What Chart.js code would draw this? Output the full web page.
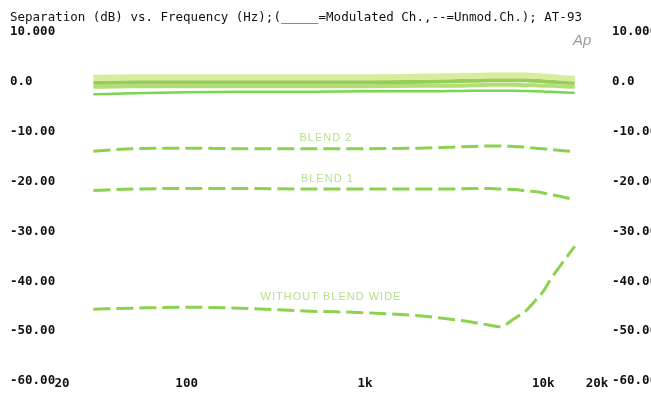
<!DOCTYPE html>
<html><head><meta charset="utf-8">
<script src="https://cdn.jsdelivr.net/npm/chart.js@4.4.0/dist/chart.umd.min.js"></script>
<style>html,body{margin:0;padding:0;background:#fff;}canvas{display:block;}</style>
</head><body>
<canvas id="c" width="651" height="393"></canvas>
<script>
// ---- data ----
const freqHz   = [30, 50, 100, 200, 500, 1000, 2000, 3000, 4000, 5000, 5700, 7000, 8000, 9000, 10000, 11000, 12500, 15000];
// Modulated channel (solid) curves, bunched around 0 dB
const modTop   = [0.8, 0.9, 0.9, 0.9, 0.9, 0.9, 1.0, 1.1, 1.2, 1.3, 1.3, 1.3, 1.3, 1.2, 1.1, 1.0, 0.8, 0.6];
const modMid   = [-0.2, -0.1, -0.1, -0.1, -0.1, -0.1, 0.0, 0.1, 0.2, 0.3, 0.3, 0.3, 0.3, 0.2, 0.1, 0.0, -0.1, -0.2];
const modLow   = [-1.0, -0.9, -0.9, -0.9, -0.9, -0.9, -0.8, -0.8, -0.7, -0.6, -0.6, -0.6, -0.7, -0.7, -0.8, -0.8, -0.9, -1.0];
const modBase  = [-2.5, -2.3, -2.1, -2.0, -2.0, -1.9, -1.9, -1.85, -1.8, -1.8, -1.8, -1.8, -1.85, -1.9, -1.95, -2.0, -2.1, -2.2];
// Unmodulated channel (dashed) curves
const blend2   = [-13.9, -13.4, -13.3, -13.4, -13.4, -13.4, -13.3, -13.1, -12.95, -12.85, -12.85, -13.0, -13.1, -13.3, -13.4, -13.55, -13.75, -14.0];
const blend1   = [-21.8, -21.5, -21.4, -21.4, -21.5, -21.5, -21.5, -21.5, -21.4, -21.4, -21.5, -21.6, -21.9, -22.0, -22.3, -22.6, -23.0, -23.6];
const noBlend  = [-45.6, -45.4, -45.2, -45.4, -46.0, -46.3, -46.9, -47.6, -48.2, -48.8, -49.1, -47.3, -45.9, -43.9, -42.0, -39.6, -36.8, -33.0];

const xTickValues = [20, 100, 1000, 10000, 20000];
const xTickText   = ['20', '100', '1k', '10k', '20k'];
const yTickValues = [10, 0, -10, -20, -30, -40, -50, -60];
const yTickText   = ['10.000', '0.0', '-10.00', '-20.00', '-30.00', '-40.00', '-50.00', '-60.00'];
const titleText   = 'Separation (dB) vs. Frequency (Hz);(_____=Modulated Ch.,--=Unmod.Ch.); AT-93';
const noteText    = ['BLEND 2', 'BLEND 1', 'WITHOUT BLEND WIDE', 'Ap'];
const noteFreq    = [604, 615, 645, 16500];
const noteDb      = [-11.3, -19.4, -43.2, 8.3];

// ---- chart ----
const pts = arr => freqHz.map((f, i) => ({x: f, y: arr[i]}));
const solid = (arr, color, w) => ({data: pts(arr), borderColor: color, borderWidth: w, pointRadius: 0, cubicInterpolationMode: 'monotone', fill: false});
const dashed = (arr, color) => ({data: pts(arr), borderColor: color, borderWidth: 3, borderDash: [17, 6], pointRadius: 0, cubicInterpolationMode: 'monotone', fill: false});

const notesPlugin = {
  id: 'notes',
  afterDatasetsDraw(chart) {
    const ctx = chart.ctx, sx = chart.scales.x, sy = chart.scales.y;
    ctx.save();
    ctx.textAlign = 'center';
    ctx.textBaseline = 'middle';
    noteText.forEach((t, i) => {
      const px = sx.getPixelForValue(noteFreq[i]);
      const py = sy.getPixelForValue(noteDb[i]);
      if (t === 'Ap') {
        ctx.font = 'italic 15px "Liberation Sans"';
        ctx.fillStyle = '#9a9a9a';
        ctx.letterSpacing = '0px';
      } else {
        ctx.font = '11px "Liberation Sans"';
        ctx.fillStyle = '#b6e08c';
        ctx.letterSpacing = '1px';
      }
      ctx.fillText(t, px, py);
    });
    ctx.restore();
  }
};

const tickFont = {family: 'DejaVu Sans Mono', size: 12.5, weight: 'bold'};
const yTicks = v => { const i = yTickValues.indexOf(v); return i < 0 ? '' : yTickText[i]; };

new Chart(document.getElementById('c'), {
  type: 'line',
  data: {
    datasets: [
      solid(modTop, 'rgba(214,236,150,0.95)', 6),
      solid(modMid, 'rgba(140,200,70,0.9)', 4),
      solid(modLow, 'rgba(170,220,100,0.9)', 4),
      solid(modBase, 'rgb(120,215,80)', 2.5),
      dashed(blend2, 'rgb(140,210,80)'),
      dashed(blend1, 'rgb(140,210,80)'),
      dashed(noBlend, 'rgb(140,210,80)')
    ]
  },
  options: {
    responsive: false,
    animation: false,
    devicePixelRatio: 1,
    layout: {padding: {left: 10, right: 0, top: 0, bottom: 0}},
    plugins: {
      legend: {display: false},
      tooltip: {enabled: false},
      title: {
        display: true, text: titleText, align: 'start', color: '#111',
        font: {family: 'DejaVu Sans Mono', size: 12.5, weight: 'normal'},
        padding: {top: 10, bottom: 7}
      }
    },
    scales: {
      x: {
        type: 'logarithmic', min: 20, max: 20000,
        grid: {display: false, drawTicks: false}, border: {display: false},
        afterBuildTicks: s => { s.ticks = xTickValues.map(v => ({value: v})); },
        afterFit: s => { s.height = 12; },
        ticks: {
          mirror: true, autoSkip: false, maxRotation: 0, padding: -10, color: '#111', font: tickFont,
          callback: v => { const i = xTickValues.indexOf(v); return i < 0 ? '' : xTickText[i]; }
        }
      },
      y: {
        type: 'linear', position: 'left', min: -60, max: 10,
        grid: {display: false, drawTicks: false}, border: {display: false},
        afterBuildTicks: s => { s.ticks = yTickValues.map(v => ({value: v})); },
        afterFit: s => { s.width = 52; },
        ticks: {crossAlign: 'far', padding: 0, color: '#111', font: tickFont, callback: yTicks}
      },
      y2: {
        type: 'linear', position: 'right', min: -60, max: 10,
        grid: {display: false, drawTicks: true, tickLength: 15}, border: {display: false},
        afterBuildTicks: s => { s.ticks = yTickValues.map(v => ({value: v})); },
        afterFit: s => { s.width = 54; },
        ticks: {crossAlign: 'near', padding: 0, color: '#111', font: tickFont, callback: yTicks}
      }
    }
  },
  plugins: [notesPlugin]
});
</script>
</body></html>
